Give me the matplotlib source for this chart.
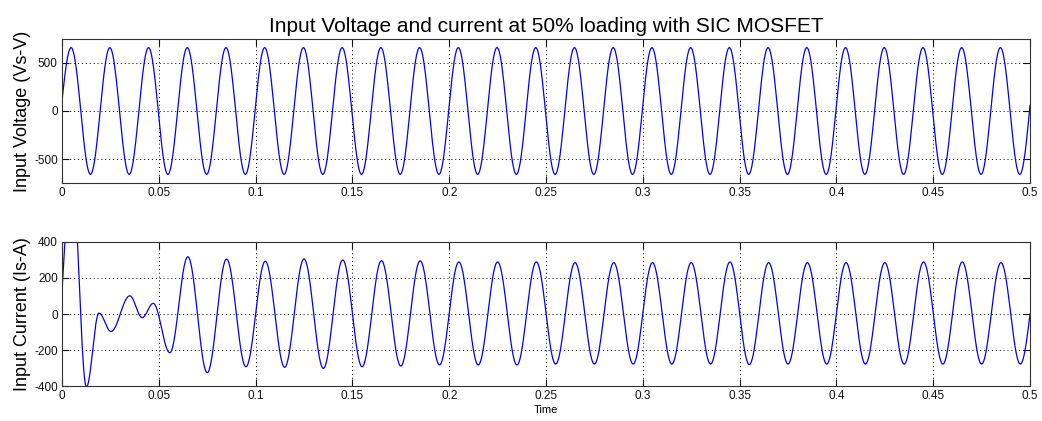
import numpy as np
import matplotlib
matplotlib.use("Agg")
import matplotlib.pyplot as plt

plt.rcParams['font.family'] = ['Liberation Sans', 'DejaVu Sans']
plt.rcParams['axes.unicode_minus'] = False

# ---------------- data ----------------
title = "Input Voltage and current at 50% loading with SIC MOSFET"
xticks = [0, 0.05, 0.1, 0.15, 0.2, 0.25, 0.3, 0.35, 0.4, 0.45, 0.5]
xtick_labels = ["0", "0.05", "0.1", "0.15", "0.2", "0.25", "0.3", "0.35", "0.4", "0.45", "0.5"]
v_yticks = [-500, 0, 500]
i_yticks = [-400, -200, 0, 200, 400]

period = 0.02  # 50 Hz supply

# Voltage: start value, peak/trough levels per cycle, end value
v_start = 110.0
v_end = 60.0
v_peak_t0 = 0.0047     # time of first peak
v_trough_t0 = 0.0147   # time of first trough
v_peaks = [660, 660, 660, 660, 660, 660, 660, 660, 660, 660, 660, 660, 660,
           660, 660, 660, 660, 660, 660, 660, 660, 660, 660, 660, 660]
v_troughs = [-660, -660, -660, -660, -660, -660, -660, -660, -660, -660, -660,
             -660, -660, -660, -660, -660, -660, -660, -660, -660, -660, -660,
             -660, -660, -660]

# Current: start-up transient extrema (time, value)
i_trans_t = [0.0, 0.0052, 0.0126, 0.0191, 0.0253, 0.0350, 0.0414, 0.0471, 0.0557]
i_trans_v = [123, 760, -405, 5, -97, 101, -20, 59, -215]
# Current: steady-state peaks (from t=0.065) and troughs (from t=0.075)
i_peak_t0 = 0.0650
i_trough_t0 = 0.0750
i_peaks = [318, 305, 293, 306, 300, 296, 295, 289, 289, 289, 285,
           285, 285, 285, 289, 285, 285, 285, 285, 289, 289, 285]
i_troughs = [-326, -293, -296, -302, -293, -289, -283, -283, -283, -278, -278,
             -278, -278, -278, -281, -278, -278, -278, -278, -278, -278, -278]
i_end = 0.0
t_end = 0.5


def extrema_sequence(first_peak_t, peaks, first_trough_t, troughs):
    pts = [(first_peak_t + k * period, v) for k, v in enumerate(peaks)]
    pts += [(first_trough_t + k * period, v) for k, v in enumerate(troughs)]
    pts.sort()
    return pts


def build_wave(start, extrema, end, n=40):
    """Smooth wave through the read extrema: half-cosine between extrema,
    quarter-sine shapes for the open start/end segments."""
    ts, vs = [], []
    (t0, a0), (t1, a1) = start, extrema[0]
    s = np.linspace(0, 1, n)
    ts.append(t0 + (t1 - t0) * s)
    vs.append(a0 + (a1 - a0) * np.sin(np.pi / 2 * s))
    for (ta, va), (tb, vb) in zip(extrema[:-1], extrema[1:]):
        s = np.linspace(0, 1, n)[1:]
        ts.append(ta + (tb - ta) * s)
        vs.append(va + (vb - va) * (1 - np.cos(np.pi * s)) / 2)
    (ta, va), (tb, vb) = extrema[-1], end
    s = np.linspace(0, 1, n)[1:]
    ts.append(ta + (tb - ta) * s)
    vs.append(va + (vb - va) * (1 - np.cos(np.pi / 2 * s)))
    return np.concatenate(ts), np.concatenate(vs)


v_ext = extrema_sequence(v_peak_t0, v_peaks, v_trough_t0, v_troughs)
tv, vv = build_wave((0.0, v_start), v_ext, (t_end, v_end))

i_ext = list(zip(i_trans_t[1:], i_trans_v[1:])) + \
    extrema_sequence(i_peak_t0, i_peaks, i_trough_t0, i_troughs)
ti, iv = build_wave((i_trans_t[0], i_trans_v[0]), i_ext, (t_end, i_end))

# ---------------- figure ----------------
fig = plt.figure(figsize=(10.42, 4.21), dpi=100)
ax1 = fig.add_axes([0.0595, 0.5653, 0.9290, 0.3421])
ax2 = fig.add_axes([0.0595, 0.0831, 0.9290, 0.3421])

for ax in (ax1, ax2):
    ax.set_xlim(0, 0.5)
    ax.set_xticks(xticks)
    ax.set_xticklabels(xtick_labels)
    ax.grid(True, linestyle=(0, (1, 3)), color='black', linewidth=0.7)
    ax.tick_params(direction='in', top=True, right=True, length=5,
                   labelsize=8.5, colors='#111111', pad=3)
    for sp in ax.spines.values():
        sp.set_color('#333333')
        sp.set_linewidth(0.8)

ax1.plot(tv, vv, color='#0000ff', linewidth=0.9)
ax1.set_ylim(-750, 750)
ax1.set_yticks(v_yticks)
ax1.set_ylabel("Input Voltage (Vs-V)", fontsize=13, labelpad=2)
ax1.set_title(title, fontsize=15, pad=5)

ax2.plot(ti, iv, color='#0000ff', linewidth=0.9)
ax2.set_ylim(-400, 400)
ax2.set_yticks(i_yticks)
ax2.set_ylabel("Input Current (Is-A)", fontsize=13, labelpad=2)
ax2.set_xlabel("Time", fontsize=8, labelpad=2)

fig.savefig("out.png", dpi=100)
